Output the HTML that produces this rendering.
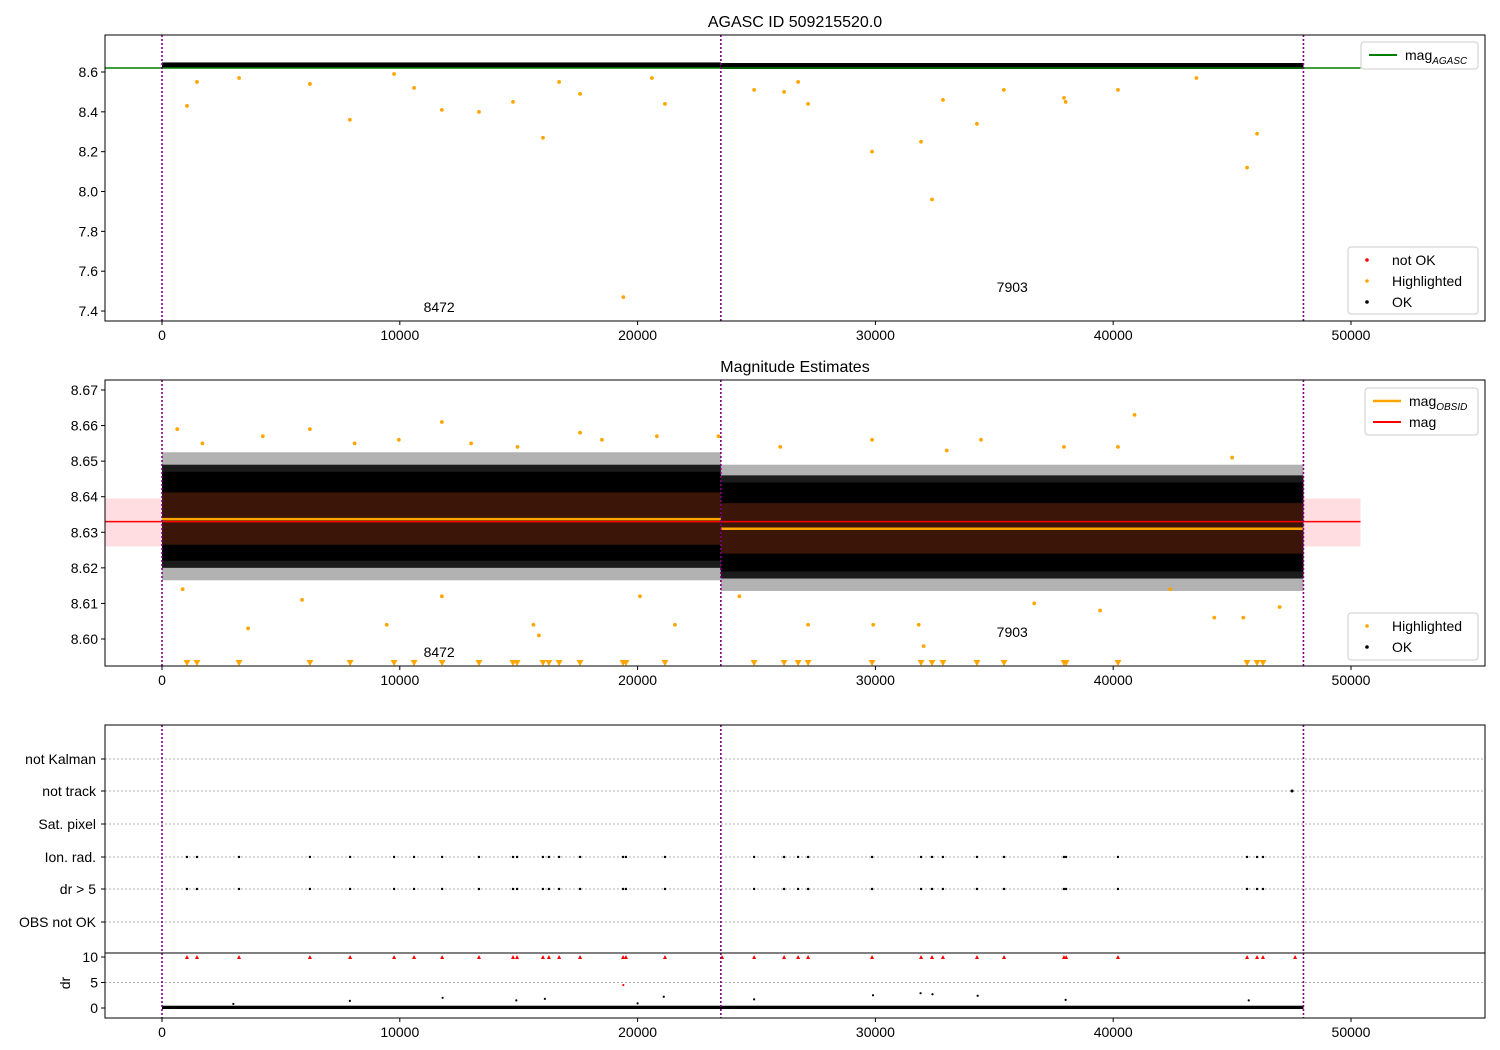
<!DOCTYPE html>
<html><head><meta charset="utf-8">
<style>
html,body{margin:0;padding:0;background:#fff;}
svg{display:block;font-family:"Liberation Sans","DejaVu Sans",sans-serif;}
</style></head>
<body>
<svg id="fig" width="1500" height="1050" xmlns="http://www.w3.org/2000/svg"></svg>
<script>
// ---- data ----
const obsids = ["8472", "7903"];
const obsStart = [0, 23500];
const obsEnd = [23500, 48000];
const obsMean = [8.6337, 8.6310];
const obsStdLo = [8.6265, 8.6240];
const obsStdHi = [8.6412, 8.6382];
const obsCloudLo = [8.6165, 8.6135];
const obsCloudHi = [8.6525, 8.6490];
const obsCoreLo = [8.620, 8.617];
const obsCoreHi = [8.649, 8.646];
const magMean = 8.633;
const magStdLo = 8.626;
const magStdHi = 8.6395;
const magAgasc = 8.62;
const p1Level = [8.634, 8.631];
// highlighted outliers, top panel
const hlTopX = [1050, 1470, 6220, 7900, 11770, 13330, 14760, 16020, 19400, 21150, 29860, 31920, 32380, 32840, 34270, 37930, 45630, 46050, 3240, 9760, 10600, 16700, 17580, 24900, 26160, 26750, 27170, 35400, 40200, 38000, 43500, 20600];
const hlTopY = [8.43, 8.55, 8.54, 8.36, 8.41, 8.40, 8.45, 8.27, 7.47, 8.44, 8.20, 8.25, 7.96, 8.46, 8.34, 8.47, 8.12, 8.29, 8.57, 8.59, 8.52, 8.55, 8.49, 8.51, 8.50, 8.55, 8.44, 8.51, 8.51, 8.45, 8.57, 8.57];
// highlighted outliers, middle panel
const hlMidX = [640, 6220, 11770, 17580, 23400, 40900, 29860, 34440, 37930, 40200, 4240, 9960, 14950, 20810, 3620, 9450, 15850, 15620, 21570, 32030, 31820, 44250, 45470, 27170, 29910, 39450, 5890, 11770, 47000, 870, 20100, 24280, 36680, 42400, 1700, 8100, 13000, 18500, 26000, 33000, 45000];
const hlMidY = [8.659, 8.659, 8.661, 8.658, 8.657, 8.663, 8.656, 8.656, 8.654, 8.654, 8.657, 8.656, 8.654, 8.657, 8.603, 8.604, 8.601, 8.604, 8.604, 8.598, 8.604, 8.606, 8.606, 8.604, 8.604, 8.608, 8.611, 8.612, 8.609, 8.614, 8.612, 8.612, 8.610, 8.614, 8.655, 8.655, 8.655, 8.656, 8.654, 8.653, 8.651];
// flagged observations (ion rad / dr>5 / dr=10)
const flagX = [1050, 1470, 3240, 6220, 7910, 9760, 10600, 11780, 13330, 14760, 14930, 16020, 16270, 16700, 17580, 19390, 19510, 21150, 24900, 26160, 26750, 27170, 29860, 31920, 32380, 32840, 34270, 35410, 37930, 38020, 40200, 45630, 46050, 46300];
const redX = [23550, 47650];
const trackX = [47520];
const drScatX = [7900, 11800, 14900, 16100, 19400, 21100, 24900, 29900, 31900, 32400, 34300, 38000, 45700, 20000, 3000];
const drScatY = [1.4, 2.0, 1.5, 1.8, 4.5, 2.2, 1.7, 2.5, 2.9, 2.7, 2.4, 1.6, 1.5, 0.9, 0.8];
const xTicks = [0, 10000, 20000, 30000, 40000, 50000];
const p1Ticks = [7.4, 7.6, 7.8, 8.0, 8.2, 8.4, 8.6];
const p2Ticks = [8.60, 8.61, 8.62, 8.63, 8.64, 8.65, 8.66, 8.67];
const cats = ["not Kalman", "not track", "Sat. pixel", "Ion. rad.", "dr > 5", "OBS not OK"];
const drTicks = [0, 5, 10];

// ---- helpers ----
const NS = "http://www.w3.org/2000/svg";
const svg = document.getElementById("fig");
function el(tag, attrs, parent) {
  const e = document.createElementNS(NS, tag);
  for (const k in attrs) e.setAttribute(k, attrs[k]);
  (parent || svg).appendChild(e);
  return e;
}
function txt(s, x, y, attrs, parent) { const t = el("text", Object.assign({x: x, y: y, "font-size": 14, fill: "#000"}, attrs), parent); t.textContent = s; return t; }
const L = 105, R = 1485;
const X = v => 162 + v * (1351 - 162) / 50000;
const Y1 = v => 72 + (8.6 - v) * 199.2;
const Y2 = v => 390 + (8.67 - v) * 3557;
const catY = [759, 791, 824, 857, 889, 922];
const YD = v => 1008 - v * 5.1;

function frame(top, bot, name) {
  const r = el("rect", {x: L, y: top, width: R - L, height: bot - top, fill: "none", stroke: "#000", "stroke-width": 1});
  
  
}
function xAxis(bot, labels) {
  const g = el("g", {});
  
  
  xTicks.forEach(t => {
    el("line", {x1: X(t), x2: X(t), y1: bot, y2: bot + 4, stroke: "#000"}, g);
    if (labels) { const tt = txt(String(t), X(t), bot + 19, {"text-anchor": "middle"}, g);   }
  });
}
function vlines(top, bot) {
  [0, 23500, 48000].forEach(v => { const l = el("line", {x1: X(v), x2: X(v), y1: top, y2: bot, stroke: "purple", "stroke-width": 1.6, "stroke-dasharray": "2,2"});   });
}

// ---- Panel 1 ----
const t1 = txt("AGASC ID 509215520.0", 795, 27, {"text-anchor": "middle", "font-size": 16});


const g1 = el("g", {});


obsids.forEach((o, i) => {
  const r = el("rect", {x: X(obsStart[i]), y: Y1(p1Level[i] + 0.014), width: X(obsEnd[i]) - X(obsStart[i]), height: Y1(p1Level[i] - 0.016) - Y1(p1Level[i] + 0.014), fill: "#000"}, g1);
  
  
});
const ga = el("line", {x1: L, x2: X(50400), y1: Y1(magAgasc), y2: Y1(magAgasc), stroke: "green", "stroke-width": 1.5}, g1);


hlTopX.forEach((x, i) => { const c = el("circle", {cx: X(x), cy: Y1(hlTopY[i]), r: 1.9, fill: "orange"}, g1);   });
vlines(35, 321);
frame(35, 321, 'top-axes');
p1Ticks.forEach(t => { el("line", {x1: L - 4, x2: L, y1: Y1(t), y2: Y1(t), stroke: "#000"}); const tt = txt(t.toFixed(1), L - 7, Y1(t) + 5, {"text-anchor": "end"});   });
xAxis(321, true);
[["8472", 11000, 312], ["7903", 35100, 292]].forEach(a => { const t = txt(a[0], X(a[1]), a[2], {});   });

// ---- Panel 2 ----
const t2 = txt("Magnitude Estimates", 795, 372, {"text-anchor": "middle", "font-size": 16});


const g2 = el("g", {});


const pb = el("rect", {x: L, y: Y2(magStdHi), width: X(50400) - L, height: Y2(magStdLo) - Y2(magStdHi), fill: "#ffdde0"}, g2);


obsids.forEach((o, i) => {
  const x0 = X(obsStart[i]), w = X(obsEnd[i]) - x0;
  const a = el("rect", {x: x0, y: Y2(obsCloudHi[i]), width: w, height: Y2(obsCloudLo[i]) - Y2(obsCloudHi[i]), fill: "#000", opacity: 0.3}, g2);
  
  
  const b = el("rect", {x: x0, y: Y2(obsCoreHi[i]), width: w, height: Y2(obsCoreLo[i]) - Y2(obsCoreHi[i]), fill: "#000", opacity: 0.85}, g2);
  
  
  const b2 = el("rect", {x: x0, y: Y2(obsCoreHi[i] - 0.002), width: w, height: Y2(obsCoreLo[i] + 0.002) - Y2(obsCoreHi[i] - 0.002), fill: "#000"}, g2);
  
  
  const c = el("rect", {x: x0, y: Y2(obsStdHi[i]), width: w, height: Y2(obsStdLo[i]) - Y2(obsStdHi[i]), fill: "#3a1508"}, g2);
  
  
});
const ml = el("line", {x1: L, x2: X(50400), y1: Y2(magMean), y2: Y2(magMean), stroke: "red", "stroke-width": 1.5}, g2);


obsids.forEach((o, i) => { const l = el("line", {x1: X(obsStart[i]), x2: X(obsEnd[i]), y1: Y2(obsMean[i]), y2: Y2(obsMean[i]), stroke: "orange", "stroke-width": 2.5}, g2);   });
hlMidX.forEach((x, i) => { const c = el("circle", {cx: X(x), cy: Y2(hlMidY[i]), r: 1.9, fill: "orange"}, g2);   });
flagX.forEach(x => { const p = el("path", {d: `M${X(x) - 3.5},660 L${X(x) + 3.5},660 L${X(x)},666 Z`, fill: "orange"}, g2);   });
vlines(380, 666);
frame(380, 666, 'middle-axes');
p2Ticks.forEach(t => { el("line", {x1: L - 4, x2: L, y1: Y2(t), y2: Y2(t), stroke: "#000"}); const tt = txt(t.toFixed(2), L - 7, Y2(t) + 5, {"text-anchor": "end"});   });
xAxis(666, true);
[["8472", 11000, 657], ["7903", 35100, 637]].forEach(a => { const t = txt(a[0], X(a[1]), a[2], {});   });

// ---- Panel 3 ----
const g3 = el("g", {});


cats.forEach((c, i) => {
  el("line", {x1: L, x2: R, y1: catY[i], y2: catY[i], stroke: "#b0b0b0", "stroke-dasharray": "2,2"}, g3);
  el("line", {x1: L - 4, x2: L, y1: catY[i], y2: catY[i], stroke: "#000"}, g3);
  const t = txt(c, L - 9, catY[i] + 5, {"text-anchor": "end"}, g3);
  
  
});
[5].forEach(v => el("line", {x1: L, x2: R, y1: YD(v), y2: YD(v), stroke: "#b0b0b0", "stroke-dasharray": "2,2"}, g3));
flagX.forEach(x => {
  [catY[3], catY[4]].forEach(y => { const c = el("circle", {cx: X(x), cy: y, r: 1.2, fill: "#000"}, g3);   });
  const p = el("path", {d: `M${X(x) - 2},${YD(10) + 2} L${X(x) + 2},${YD(10) + 2} L${X(x)},${YD(10) - 2} Z`, fill: "red"}, g3);
  
  
});
redX.forEach(x => { const p = el("path", {d: `M${X(x) - 2},${YD(10) + 2} L${X(x) + 2},${YD(10) + 2} L${X(x)},${YD(10) - 2} Z`, fill: "red"}, g3);   });
trackX.forEach(x => { const c = el("circle", {cx: X(x), cy: catY[1], r: 1.5, fill: "#000"}, g3);   });
const drb = el("rect", {x: X(0), y: YD(0.45), width: X(48000) - X(0), height: YD(-0.2) - YD(0.45), fill: "#000"}, g3);


drScatX.forEach((x, i) => { const c = el("circle", {cx: X(x), cy: YD(drScatY[i]), r: 1.1, fill: i == 4 ? "red" : "#000"}, g3);   });
vlines(725, 1018);
frame(725, 1018, 'flags-axes');
el("line", {x1: L, x2: R, y1: 953, y2: 953, stroke: "#000"});
drTicks.forEach(t => { el("line", {x1: L - 4, x2: L, y1: YD(t), y2: YD(t), stroke: "#000"}); const tt = txt(String(t), L - 7, YD(t) + 5, {"text-anchor": "end"});   });
const dl = txt("dr", 70, 983, {"text-anchor": "middle", transform: "rotate(-90 70 983)"});


xAxis(1018, true);

// ---- Legends ----
function legend(x, y, w, h, entries, name) {
  const g = el("g", {});
  
  
  el("rect", {x: x, y: y, width: w, height: h, rx: 3, fill: "#fff", "fill-opacity": 0.85, stroke: "#ccc"}, g);
  entries.forEach((e, i) => {
    const cy = y + 13 + i * 21;
    if (e.type == "line") el("line", {x1: x + 8, x2: x + 36, y1: cy, y2: cy, stroke: e.color, "stroke-width": e.w || 2}, g);
    else el("circle", {cx: x + 19, cy: cy, r: 1.8, fill: e.color}, g);
    const t = txt("", x + 44, cy + 5, {}, g);
    t.innerHTML = e.label;
    
    
  });
}
legend(1361, 42, 117, 27, [{type: "line", color: "green", label: 'mag<tspan font-size="10" font-style="italic" dy="4">AGASC</tspan>'}], 'legend-agasc');
legend(1348, 247, 130, 67, [{type: "dot", color: "red", label: "not OK"}, {type: "dot", color: "orange", label: "Highlighted"}, {type: "dot", color: "#000", label: "OK"}], 'legend-points-top');
legend(1365, 388, 113, 47, [{type: "line", color: "orange", label: 'mag<tspan font-size="10" font-style="italic" dy="4">OBSID</tspan>', w: 2.5}, {type: "line", color: "red", label: "mag"}], 'legend-mag');
legend(1348, 613, 130, 47, [{type: "dot", color: "orange", label: "Highlighted"}, {type: "dot", color: "#000", label: "OK"}], 'legend-points-middle');
</script>
</body></html>
